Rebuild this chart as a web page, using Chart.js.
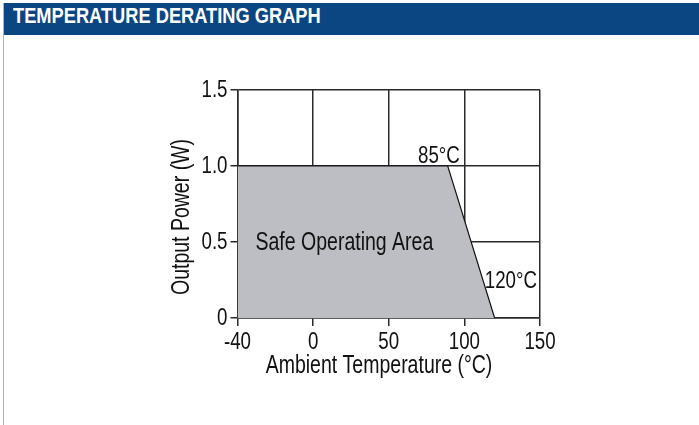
<!DOCTYPE html>
<html>
<head>
<meta charset="utf-8">
<script src="https://cdn.jsdelivr.net/npm/chart.js@4.4.1/dist/chart.umd.min.js"></script>
<style>
  html, body { margin: 0; padding: 0; background: #fff; }
  body { width: 699px; height: 425px; position: relative; overflow: hidden; }
  #frame { position: absolute; left: 3px; top: 3px; width: 700px; height: 430px; border-left: 1px solid #b5b5b5; }
  #header {
    position: absolute; left: 4px; top: 3px; width: 700px; height: 32px;
    background: #0b4683; z-index: 2;
  }
  #header span {
    position: absolute; left: 9px; top: 0; line-height: 33px; white-space: nowrap;
    color: #fff; font: bold 22px "Liberation Sans", Arial, sans-serif;
    transform: scaleX(0.83); transform-origin: 0 0;
  }
  #wrap { position: absolute; left: 0; top: 0; width: 699px; height: 425px; }
</style>
</head>
<body>
<div id="frame"></div>
<div id="header"><span>TEMPERATURE DERATING GRAPH</span></div>
<div id="wrap"><canvas id="chart"></canvas></div>
<script>
const FONT = '"Liberation Sans", Arial, sans-serif';
const NARROW = 0.78; // the graph uses a condensed face

// derating curve (°C, W)
const tempC = [-40, 89, 120];
const powerW = [1.0, 1.0, 0];

const xTickLabels = ["-40", "0", "50", "100", "150"];
const yTickLabels = ["0", "0.5", "1.0", "1.5"];

const xTitle = "Ambient Temperature (°C)";
const yTitle = "Output Power (W)";
const areaLabel = "Safe Operating Area";
const kneeLabel = "85°C";
const endLabel = "120°C";

// the -40..0 span is drawn as wide as a 50° step on the original graph
const toAxis = (t) => (t < 0 ? t * 50 / 40 : t);

const grid = "#2a2a2a";
const ink = "#111";
const fillGrey = "#bdbec3";

const canvas = document.getElementById("chart");
const ctx2d = canvas.getContext("2d");
const plainFill = ctx2d.fillText;
ctx2d.fillText = function (t, x, y) {
  this.save();
  this.translate(x, y);
  this.scale(NARROW, 1);
  plainFill.call(this, t, 0, 0);
  this.restore();
};

const textPlugin = {
  id: "texts",
  afterDraw(c) {
    const { ctx, scales } = c;
    const x = scales.x, y = scales.y;
    ctx.save();

    // safe operating area label, sitting on the 0.5 line
    ctx.font = "25px " + FONT;
    const ax = x.getPixelForValue(toAxis(-40)) + 18;
    const ay = y.getPixelForValue(0.5);
    const w = ctx.measureText(areaLabel).width * NARROW;
    ctx.fillStyle = fillGrey;
    ctx.fillRect(ax - 2, ay - 8, w + 4, 16);
    ctx.fillStyle = ink;
    ctx.textBaseline = "middle";
    ctx.textAlign = "left";
    ctx.fillText(areaLabel, ax, ay + 1);

    ctx.font = "24px " + FONT;
    ctx.textAlign = "right";
    ctx.textBaseline = "bottom";
    ctx.fillText(kneeLabel, x.getPixelForValue(97), y.getPixelForValue(1.0) + 2);
    ctx.textBaseline = "middle";
    ctx.fillText(endLabel, x.getPixelForValue(148), y.getPixelForValue(0.25) + 1);

    // axis titles
    ctx.font = "25px " + FONT;
    ctx.textAlign = "center";
    ctx.fillText(xTitle, 379, 366);
    ctx.translate(182, 217);
    ctx.rotate(-Math.PI / 2);
    ctx.fillText(yTitle, 0, 0);
    ctx.restore();
  },
};

new Chart(ctx2d, {
  type: "line",
  data: {
    datasets: [
      {
        data: tempC.map((t, i) => ({ x: toAxis(t), y: powerW[i] })),
        borderColor: "#111",
        borderWidth: 1.2,
        backgroundColor: fillGrey,
        fill: "origin",
        pointRadius: 0,
        tension: 0,
      },
    ],
  },
  options: {
    responsive: true,
    maintainAspectRatio: false,
    animation: false,
    layout: { padding: { left: 165, right: 159, top: 90, bottom: 40 } },
    plugins: { legend: { display: false }, tooltip: { enabled: false } },
    scales: {
      x: {
        type: "linear",
        min: -50,
        max: 150,
        z: 1,
        afterFit: (s) => { s.height = 67; },
        afterBuildTicks: (s) => {
          s.ticks = [-50, 0, 50, 100, 150].map((v) => ({ value: v }));
        },
        ticks: {
          color: ink,
          font: { family: FONT, size: 24 },
          padding: 2,
          maxRotation: 0,
          callback: (v, i) => xTickLabels[i],
        },
        grid: { color: grid, lineWidth: 1.5, tickLength: 8, tickColor: grid },
        border: { color: grid, width: 1.5 },
      },
      y: {
        min: 0,
        max: 1.5,
        z: 1,
        afterFit: (s) => { s.width = 72.5; },
        afterBuildTicks: (s) => {
          s.ticks = [0, 0.5, 1.0, 1.5].map((v) => ({ value: v }));
        },
        ticks: {
          color: ink,
          font: { family: FONT, size: 24 },
          padding: 3,
          callback: (v, i) => yTickLabels[i],
        },
        grid: { color: grid, lineWidth: 1.5, tickLength: 7, tickColor: grid },
        border: { color: grid, width: 1.5 },
      },
    },
  },
  plugins: [textPlugin],
});
</script>
</body>
</html>
